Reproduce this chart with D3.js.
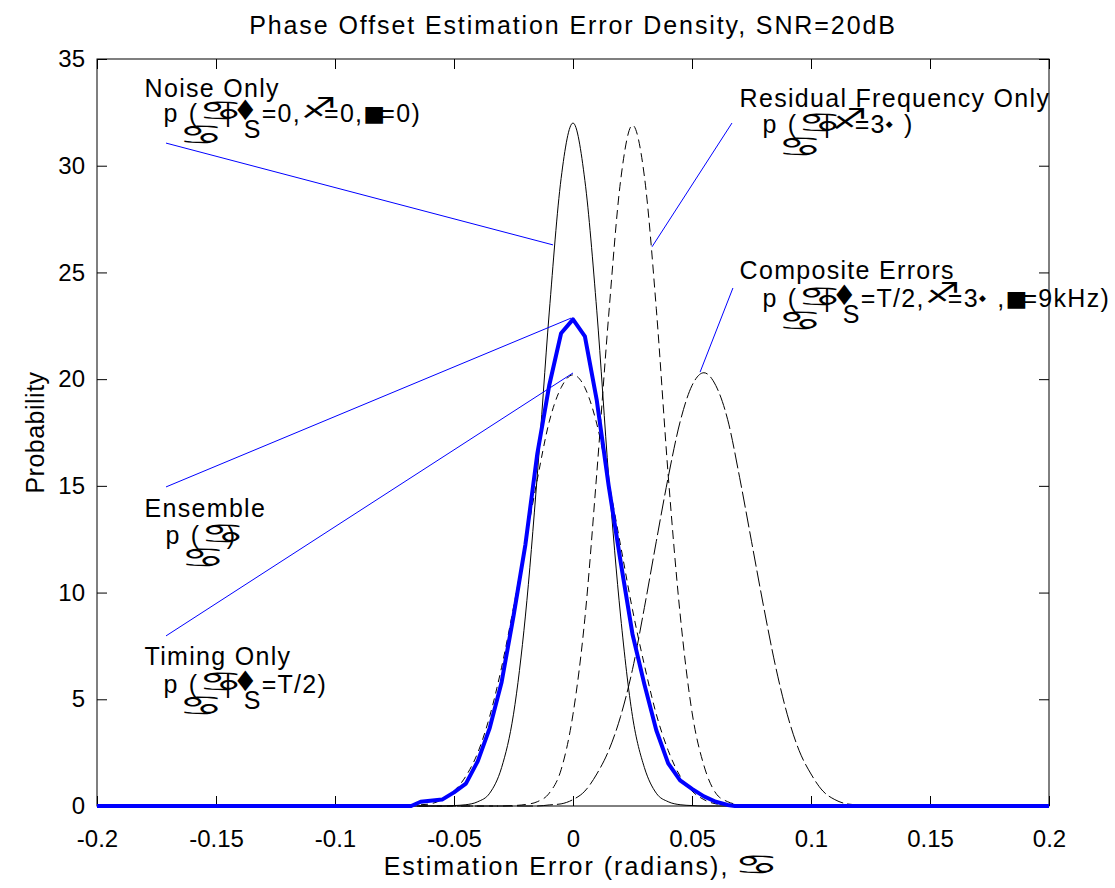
<!DOCTYPE html>
<html>
<head>
<meta charset="utf-8">
<script src="https://cdn.jsdelivr.net/npm/d3@7"></script>
<style>
  body { margin: 0; background: #fff; }
  svg text { font-family: "Liberation Sans", Arial, sans-serif; fill: #000; white-space: pre; }
  .tick-lbl { font-size: 24px; }
  .lbl { font-size: 25px; letter-spacing: 1.3px; }
  .sym { font-family: "DejaVu Sans", sans-serif; font-variant-emoji: text; letter-spacing: 0; }
</style>
</head>
<body>
<svg id="chart" width="1115" height="888"></svg>
<script>
// ---- data ----
const noiseX = [-0.2, -0.06, -0.055, -0.05, -0.045, -0.04, -0.035, -0.03, -0.025, -0.02, -0.015, -0.01, -0.005, 0, 0.005, 0.01, 0.015, 0.02, 0.025, 0.03, 0.035, 0.04, 0.045, 0.05, 0.055, 0.06, 0.2];
const noiseY = [0, 0, 0, 0.02, 0.06, 0.2, 0.6, 1.8, 4.3, 8.9, 15.5, 23.1, 29.4, 32.0, 29.3, 23.2, 15.4, 8.9, 4.2, 1.8, 0.6, 0.2, 0.06, 0.02, 0, 0, 0];

const residualX = [-0.2, -0.035, -0.03, -0.025, -0.02, -0.015, -0.01, -0.005, 0, 0.005, 0.01, 0.015, 0.02, 0.025, 0.03, 0.035, 0.04, 0.045, 0.05, 0.055, 0.06, 0.065, 0.07, 0.075, 0.08, 0.085, 0.2];
const residualY = [0, 0, 0, 0.02, 0.07, 0.2, 0.6, 1.7, 4.3, 8.8, 15.6, 23.0, 29.3, 31.9, 29.5, 23.3, 15.5, 9.0, 4.4, 1.9, 0.6, 0.2, 0.06, 0.02, 0, 0, 0];

const timingX = [-0.2, -0.07, -0.065, -0.06, -0.055, -0.05, -0.045, -0.04, -0.035, -0.03, -0.025, -0.02, -0.015, -0.01, -0.005, 0, 0.005, 0.01, 0.015, 0.02, 0.025, 0.03, 0.035, 0.04, 0.045, 0.05, 0.055, 0.06, 0.065, 0.07, 0.2];
const timingY = [0, 0, 0.05, 0.1, 0.3, 0.7, 1.4, 2.5, 4.2, 6.5, 9.3, 12.3, 15.3, 18.0, 19.6, 20.2, 19.6, 17.9, 15.2, 12.2, 9.2, 6.6, 4.3, 2.6, 1.4, 0.7, 0.3, 0.1, 0.05, 0, 0];

const compositeX = [-0.2, -0.015, -0.01, -0.005, 0, 0.005, 0.01, 0.015, 0.02, 0.025, 0.03, 0.035, 0.04, 0.045, 0.05, 0.055, 0.06, 0.065, 0.07, 0.075, 0.08, 0.085, 0.09, 0.095, 0.1, 0.105, 0.11, 0.115, 0.12, 0.125, 0.2];
const compositeY = [0, 0, 0.05, 0.1, 0.3, 0.7, 1.5, 2.6, 4.2, 6.4, 9.3, 12.4, 15.4, 18.0, 19.7, 20.3, 19.7, 18.1, 15.4, 12.4, 9.4, 6.6, 4.3, 2.6, 1.5, 0.7, 0.3, 0.1, 0.05, 0, 0];

const ensembleX = [-0.2, -0.068, -0.064, -0.06, -0.055, -0.05, -0.045, -0.04, -0.035, -0.03, -0.025, -0.02, -0.015, -0.01, -0.005, 0, 0.005, 0.01, 0.015, 0.02, 0.025, 0.03, 0.035, 0.04, 0.045, 0.05, 0.055, 0.06, 0.065, 0.068, 0.2];
const ensembleY = [0, 0, 0.2, 0.25, 0.3, 0.64, 1.05, 2.1, 3.65, 5.8, 8.9, 12.25, 16.5, 19.7, 22.15, 22.8, 22.0, 19.0, 15.0, 11.45, 8.05, 5.7, 3.55, 2.0, 1.2, 0.8, 0.45, 0.2, 0.05, 0, 0];

// annotation arrows (data units): label end -> curve end
const noiseArrow = [[-0.171, 31.06], [-0.0084, 26.29]];
const residualArrow = [[0.0668, 32.0], [0.0332, 26.2]];
const compositeArrow = [[0.0672, 24.27], [0.0534, 20.33]];
const ensembleArrow = [[-0.171, 14.95], [-0.0008, 22.86]];
const timingArrow = [[-0.171, 7.97], [0, 20.29]];

const xTicks = [-0.2, -0.15, -0.1, -0.05, 0, 0.05, 0.1, 0.15, 0.2];
const xTickLabels = ['-0.2', '-0.15', '-0.1', '-0.05', '0', '0.05', '0.1', '0.15', '0.2'];
const yTicks = [0, 5, 10, 15, 20, 25, 30, 35];
const yTickLabels = ['0', '5', '10', '15', '20', '25', '30', '35'];

const chartTitle = 'Phase Offset Estimation Error Density, SNR=20dB';
const xLabel = 'Estimation Error (radians), ';
const xLabelSym = '\u264B';
const yLabel = 'Probability';

// label text; '_' = subscript
const noiseName = 'Noise Only';
const noiseEqn = ['p', '_\u264B', '(', '\u264B', '|', '\u2666', '_S', '=0,', '\u2650', '=0,', '\u25A0', '=0)'];
const residualName = 'Residual Frequency Only';
const residualEqn = ['p', '_\u264B', '(', '\u264B', '|', '\u2650', '=3', '\u25C6', ' )'];
const compositeName = 'Composite Errors';
const compositeEqn = ['p', '_\u264B', '(', '\u264B', '|', '\u2666', '_S', '=T/2,', '\u2650', '=3', '\u25C6', ' ,', '\u25A0', '=9kHz)'];
const ensembleName = 'Ensemble';
const ensembleEqn = ['p', '_\u264B', '(', '\u264B', ')'];
const timingName = 'Timing Only';
const timingEqn = ['p', '_\u264B', '(', '\u264B', '|', '\u2666', '_S', '=T/2)'];

// ---- layout ----
const W = 1115, H = 888;
const margin = { left: 97, right: 66, top: 59, bottom: 82 };
const svg = d3.select('#chart');

const x = d3.scaleLinear().domain([-0.2, 0.2]).range([margin.left, W - margin.right]);
const y = d3.scaleLinear().domain([0, 35]).range([H - margin.bottom, margin.top]);

// axes box
svg.append('rect')
    .attr('x', x(-0.2)).attr('y', y(35))
    .attr('width', x(0.2) - x(-0.2)).attr('height', y(0) - y(35))
    .attr('fill', 'none').attr('stroke', '#000').attr('stroke-width', 1);

// ticks point inward on all four sides
const tickLen = 10;
const xAxis = svg.append('g').attr('transform', `translate(0,${y(0)})`)
    .call(d3.axisBottom(x).tickValues(xTicks).tickFormat((d, i) => xTickLabels[i])
        .tickSizeInner(-tickLen).tickSizeOuter(0).tickPadding(24));
const yAxis = svg.append('g').attr('transform', `translate(${x(-0.2)},0)`)
    .call(d3.axisLeft(y).tickValues(yTicks).tickFormat((d, i) => yTickLabels[i])
        .tickSizeInner(-tickLen).tickSizeOuter(0).tickPadding(12));
svg.append('g').attr('transform', `translate(0,${y(35)})`)
    .call(d3.axisTop(x).tickValues(xTicks).tickFormat('').tickSizeInner(-tickLen).tickSizeOuter(0));
svg.append('g').attr('transform', `translate(${x(0.2)},0)`)
    .call(d3.axisRight(y).tickValues(yTicks).tickFormat('').tickSizeInner(-tickLen).tickSizeOuter(0));

svg.selectAll('.domain').remove();
svg.selectAll('.tick line').attr('stroke', '#000');
svg.selectAll('.tick text').attr('class', 'tick-lbl').attr('font-size', null).attr('font-family', null).attr('fill', '#000');
xAxis.selectAll('text').attr('dy', null).attr('y', 41);

// curves
const line = d3.line().x(d => x(d[0])).y(d => y(d[1]));
const zip = (xs, ys) => xs.map((v, i) => [v, ys[i]]);
const series = [
    { xs: noiseX, ys: noiseY, color: '#000', width: 1, dash: null, curve: d3.curveMonotoneX },
    { xs: residualX, ys: residualY, color: '#000', width: 1, dash: '9,5', curve: d3.curveMonotoneX },
    { xs: timingX, ys: timingY, color: '#000', width: 1, dash: '7,5', curve: d3.curveMonotoneX },
    { xs: compositeX, ys: compositeY, color: '#000', width: 1, dash: '16,4', curve: d3.curveMonotoneX },
    { xs: ensembleX, ys: ensembleY, color: '#0000ff', width: 4, dash: null, curve: d3.curveLinear }
];
series.forEach(s => {
    svg.append('path')
        .attr('d', line.curve(s.curve)(zip(s.xs, s.ys)))
        .attr('fill', 'none')
        .attr('stroke', s.color)
        .attr('stroke-width', s.width)
        .attr('stroke-linejoin', 'round')
        .attr('stroke-dasharray', s.dash);
});

// annotation lines
[noiseArrow, residualArrow, compositeArrow, ensembleArrow, timingArrow].forEach(a => {
    svg.append('line')
        .attr('x1', x(a[0][0])).attr('y1', y(a[0][1]))
        .attr('x2', x(a[1][0])).attr('y2', y(a[1][1]))
        .attr('stroke', '#0000ff').attr('stroke-width', 1);
});

// symbol glyphs: the original font mapping gives squat glyphs with tight advances
const symbolStyle = {
    '\u264B': { size: 47, sx: 1.05, sy: 0.58, adv: 26.4, subAdv: 10, dy: -1.5, subDy: 22.5 },
    '\u2666': { size: 28, sx: 1, sy: 1, adv: 11, dy: -2 },
    '\u2650': { size: 40, sx: 1, sy: 0.72, adv: 23, dy: -4 },
    '\u25A0': { size: 22, sx: 1.05, sy: 1, adv: 17, dy: -1 },
    '\u25C6': { size: 9, sx: 1, sy: 1, adv: 10, dy: -6 }
};
const TEXT_VS = '\uFE0E';

function drawSym(g, t, cx, cy, sub) {
    const sym = symbolStyle[t];
    g.append('text').attr('class', 'sym').attr('font-size', sym.size)
        .attr('transform', `translate(${cx},${cy + (sub ? sym.subDy : sym.dy)}) scale(${sym.sx},${sym.sy})`)
        .text(t + TEXT_VS);
    return sub ? sym.subAdv : sym.adv;
}

function drawEqn(g, x0, y0, segs) {
    let cx = x0;
    segs.forEach(s => {
        const sub = s.startsWith('_');
        const t = sub ? s.slice(1) : s;
        if (symbolStyle[t]) {
            cx += drawSym(g, t, cx, y0, sub);
        } else {
            const el = g.append('text').attr('class', 'lbl')
                .attr('x', cx).attr('y', y0 + (sub ? 16 : 0)).text(t);
            cx += el.node().getComputedTextLength();
        }
    });
}

const labels = [
    { name: noiseName, eqn: noiseEqn, at: [-0.18, 33.22], indent: 19, gap: 25 },
    { name: residualName, eqn: residualEqn, at: [0.07, 32.75], indent: 23, gap: 26 },
    { name: compositeName, eqn: compositeEqn, at: [0.07, 24.69], indent: 23, gap: 28 },
    { name: ensembleName, eqn: ensembleEqn, at: [-0.18, 13.54], indent: 21, gap: 27 },
    { name: timingName, eqn: timingEqn, at: [-0.18, 6.61], indent: 19, gap: 28 }
];
labels.forEach(l => {
    const g = svg.append('g');
    const lx = x(l.at[0]), ly = y(l.at[1]);
    g.append('text').attr('class', 'lbl').attr('x', lx).attr('y', ly).text(l.name);
    drawEqn(g, lx + l.indent, ly + l.gap, l.eqn);
});

// title and axis labels
const midX = (x(-0.2) + x(0.2)) / 2;
svg.append('text').attr('class', 'lbl')
    .attr('x', midX).attr('y', 34)
    .attr('text-anchor', 'middle').style('letter-spacing', '1.9px')
    .text(chartTitle);

const xlg = svg.append('g');
const xl = xlg.append('text').attr('class', 'lbl').attr('y', 875)
    .style('letter-spacing', '2px').text(xLabel);
const xlW = xl.node().getComputedTextLength();
const xlStart = midX - (xlW + 24) / 2;
xl.attr('x', xlStart);
drawSym(xlg, xLabelSym, xlStart + xlW - 4, 875, false);

svg.append('text').attr('class', 'lbl')
    .attr('transform', `translate(44,${(y(0) + y(35)) / 2}) rotate(-90)`)
    .attr('text-anchor', 'middle').style('letter-spacing', '0.5px')
    .text(yLabel);
</script>
</body>
</html>
